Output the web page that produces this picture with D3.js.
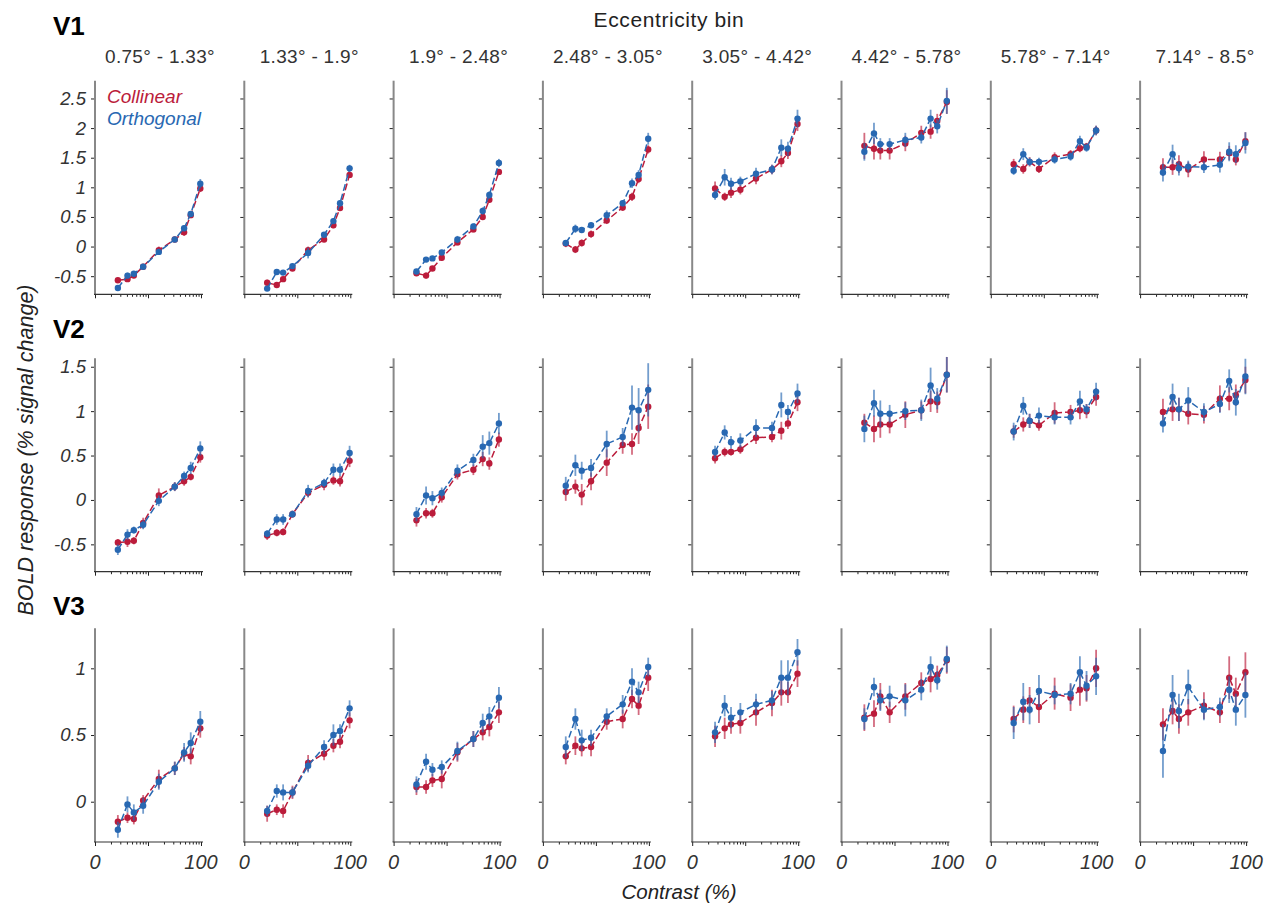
<!DOCTYPE html>
<html>
<head>
<meta charset="utf-8">
<script src="https://cdn.jsdelivr.net/npm/d3@7"></script>
<style>
  body { margin: 0; background: #fff; }
  svg text { font-family: "Liberation Sans", Arial, sans-serif; }
  .tickLabel { font-style: italic; fill: #333; font-size: 18.5px; }
</style>
</head>
<body>
<div id="graphicContainer"></div>
<script>
// contrast levels (%)
var contrast = [2.7, 4.1, 5.4, 8.1, 16, 32, 48, 64, 97]
var bins = ["0.75° - 1.33°", "1.33° - 1.9°", "1.9° - 2.48°", "2.48° - 3.05°", "3.05° - 4.42°", "4.42° - 5.78°", "5.78° - 7.14°", "7.14° - 8.5°"]
var areas = ["V1", "V2", "V3"]

// V1
var v1Collinear = [
  [-0.57, -0.55, -0.49, -0.34, -0.06, 0.12, 0.24, 0.53, 0.98],
  [-0.61, -0.65, -0.55, -0.37, -0.06, 0.12, 0.36, 0.65, 1.21],
  [-0.45, -0.49, -0.37, -0.19, 0.07, 0.29, 0.50, 0.79, 1.26],
  [0.05, -0.05, 0.06, 0.21, 0.44, 0.66, 0.84, 1.14, 1.64],
  [0.98, 0.84, 0.91, 0.96, 1.15, 1.30, 1.44, 1.58, 2.07],
  [1.70, 1.65, 1.62, 1.62, 1.74, 1.92, 1.94, 2.12, 2.44],
  [1.39, 1.31, 1.43, 1.31, 1.51, 1.56, 1.66, 1.69, 1.96],
  [1.34, 1.34, 1.39, 1.30, 1.47, 1.47, 1.58, 1.47, 1.78]
]
var v1CollinearErr = [
  [0.03, 0.03, 0.04, 0.03, 0.06, 0.04, 0.06, 0.05, 0.06],
  [0.05, 0.05, 0.04, 0.04, 0.06, 0.04, 0.05, 0.05, 0.05],
  [0.04, 0.05, 0.04, 0.05, 0.05, 0.05, 0.05, 0.05, 0.04],
  [0.06, 0.06, 0.06, 0.06, 0.06, 0.06, 0.07, 0.07, 0.07],
  [0.12, 0.07, 0.09, 0.08, 0.10, 0.08, 0.10, 0.10, 0.12],
  [0.22, 0.18, 0.15, 0.15, 0.13, 0.12, 0.12, 0.12, 0.20],
  [0.09, 0.08, 0.08, 0.07, 0.08, 0.07, 0.07, 0.06, 0.08],
  [0.15, 0.13, 0.15, 0.13, 0.14, 0.13, 0.12, 0.10, 0.15]
]
var v1Orthogonal = [
  [-0.70, -0.49, -0.46, -0.34, -0.09, 0.12, 0.31, 0.55, 1.06],
  [-0.71, -0.43, -0.44, -0.33, -0.11, 0.20, 0.43, 0.73, 1.32],
  [-0.42, -0.22, -0.20, -0.10, 0.12, 0.34, 0.60, 0.87, 1.41],
  [0.06, 0.30, 0.28, 0.36, 0.53, 0.73, 1.07, 1.21, 1.82],
  [0.87, 1.17, 1.06, 1.10, 1.23, 1.30, 1.67, 1.65, 2.16],
  [1.60, 1.91, 1.73, 1.73, 1.80, 1.84, 2.16, 2.03, 2.46],
  [1.28, 1.56, 1.43, 1.43, 1.47, 1.52, 1.78, 1.67, 1.96],
  [1.25, 1.56, 1.32, 1.35, 1.34, 1.38, 1.60, 1.56, 1.75]
]
var v1OrthogonalErr = [
  [0.03, 0.05, 0.04, 0.04, 0.05, 0.04, 0.05, 0.05, 0.08],
  [0.03, 0.04, 0.04, 0.04, 0.09, 0.04, 0.05, 0.05, 0.06],
  [0.03, 0.03, 0.03, 0.04, 0.06, 0.05, 0.06, 0.06, 0.07],
  [0.05, 0.07, 0.04, 0.04, 0.08, 0.05, 0.08, 0.08, 0.10],
  [0.08, 0.14, 0.10, 0.08, 0.10, 0.08, 0.14, 0.12, 0.15],
  [0.15, 0.18, 0.10, 0.10, 0.12, 0.10, 0.15, 0.12, 0.22],
  [0.07, 0.10, 0.07, 0.07, 0.07, 0.07, 0.09, 0.07, 0.08],
  [0.15, 0.16, 0.12, 0.10, 0.10, 0.13, 0.16, 0.15, 0.18]
]

// V2
var v2Collinear = [
  [-0.48, -0.47, -0.46, -0.26, 0.05, 0.15, 0.21, 0.26, 0.48],
  [-0.40, -0.37, -0.36, -0.16, 0.08, 0.17, 0.22, 0.21, 0.44],
  [-0.23, -0.15, -0.15, 0.03, 0.29, 0.34, 0.46, 0.41, 0.68],
  [0.09, 0.15, 0.06, 0.21, 0.42, 0.62, 0.63, 0.81, 1.05],
  [0.47, 0.54, 0.54, 0.57, 0.70, 0.71, 0.78, 0.86, 1.10],
  [0.87, 0.80, 0.85, 0.85, 0.96, 1.01, 1.11, 1.10, 1.41],
  [0.77, 0.85, 0.89, 0.84, 0.98, 0.99, 1.01, 1.00, 1.16],
  [0.99, 1.02, 1.02, 0.97, 0.96, 1.14, 1.14, 1.18, 1.35]
]
var v2CollinearErr = [
  [0.04, 0.06, 0.04, 0.06, 0.08, 0.05, 0.05, 0.04, 0.06],
  [0.05, 0.04, 0.04, 0.04, 0.05, 0.06, 0.05, 0.06, 0.07],
  [0.07, 0.06, 0.05, 0.06, 0.06, 0.06, 0.08, 0.07, 0.08],
  [0.10, 0.08, 0.12, 0.10, 0.15, 0.10, 0.12, 0.18, 0.25],
  [0.06, 0.05, 0.04, 0.05, 0.07, 0.06, 0.10, 0.06, 0.10],
  [0.10, 0.15, 0.15, 0.10, 0.15, 0.10, 0.12, 0.12, 0.20],
  [0.07, 0.08, 0.08, 0.06, 0.12, 0.08, 0.10, 0.08, 0.10],
  [0.15, 0.13, 0.13, 0.12, 0.10, 0.15, 0.13, 0.12, 0.15]
]
var v2Orthogonal = [
  [-0.56, -0.39, -0.34, -0.28, -0.01, 0.15, 0.27, 0.36, 0.58],
  [-0.38, -0.22, -0.22, -0.16, 0.10, 0.19, 0.34, 0.34, 0.53],
  [-0.16, 0.05, 0.02, 0.08, 0.33, 0.45, 0.60, 0.64, 0.86],
  [0.16, 0.39, 0.33, 0.36, 0.63, 0.71, 1.04, 1.01, 1.24],
  [0.54, 0.76, 0.65, 0.67, 0.81, 0.81, 1.07, 0.99, 1.20],
  [0.80, 1.09, 0.97, 0.97, 1.00, 1.01, 1.29, 1.14, 1.41],
  [0.77, 1.06, 0.89, 0.95, 0.93, 0.93, 1.11, 1.02, 1.22],
  [0.86, 1.16, 1.02, 1.12, 0.99, 1.08, 1.34, 1.10, 1.39]
]
var v2OrthogonalErr = [
  [0.06, 0.06, 0.04, 0.05, 0.06, 0.05, 0.05, 0.07, 0.08],
  [0.04, 0.06, 0.06, 0.04, 0.07, 0.05, 0.07, 0.07, 0.08],
  [0.08, 0.10, 0.08, 0.06, 0.07, 0.07, 0.13, 0.13, 0.12],
  [0.10, 0.12, 0.10, 0.10, 0.15, 0.10, 0.25, 0.25, 0.30],
  [0.07, 0.08, 0.07, 0.08, 0.10, 0.07, 0.14, 0.08, 0.11],
  [0.15, 0.15, 0.15, 0.10, 0.10, 0.12, 0.20, 0.12, 0.20],
  [0.10, 0.10, 0.08, 0.09, 0.08, 0.08, 0.12, 0.06, 0.10],
  [0.10, 0.15, 0.13, 0.15, 0.10, 0.10, 0.13, 0.15, 0.20]
]

// V3
var v3Collinear = [
  [-0.15, -0.12, -0.13, 0.01, 0.17, 0.25, 0.36, 0.34, 0.55],
  [-0.09, -0.06, -0.07, 0.07, 0.29, 0.36, 0.42, 0.45, 0.61],
  [0.11, 0.11, 0.16, 0.17, 0.37, 0.47, 0.52, 0.56, 0.67],
  [0.34, 0.42, 0.40, 0.41, 0.60, 0.62, 0.77, 0.72, 0.93],
  [0.49, 0.55, 0.58, 0.59, 0.67, 0.74, 0.82, 0.82, 0.96],
  [0.63, 0.66, 0.79, 0.67, 0.79, 0.89, 0.92, 0.95, 1.06],
  [0.62, 0.69, 0.76, 0.71, 0.81, 0.78, 0.84, 0.85, 1.00],
  [0.58, 0.68, 0.62, 0.67, 0.72, 0.67, 0.93, 0.81, 0.97]
]
var v3CollinearErr = [
  [0.05, 0.04, 0.04, 0.04, 0.07, 0.05, 0.05, 0.06, 0.07],
  [0.06, 0.04, 0.05, 0.05, 0.06, 0.05, 0.05, 0.05, 0.06],
  [0.06, 0.05, 0.05, 0.07, 0.07, 0.06, 0.06, 0.07, 0.08],
  [0.06, 0.07, 0.06, 0.07, 0.06, 0.07, 0.07, 0.07, 0.10],
  [0.08, 0.08, 0.07, 0.08, 0.10, 0.10, 0.10, 0.08, 0.10],
  [0.10, 0.10, 0.10, 0.08, 0.10, 0.08, 0.10, 0.07, 0.10],
  [0.10, 0.10, 0.10, 0.12, 0.12, 0.10, 0.12, 0.10, 0.14],
  [0.12, 0.10, 0.11, 0.10, 0.10, 0.08, 0.16, 0.12, 0.15]
]
var v3Orthogonal = [
  [-0.21, -0.02, -0.08, -0.03, 0.15, 0.25, 0.37, 0.44, 0.60],
  [-0.07, 0.08, 0.07, 0.07, 0.27, 0.41, 0.50, 0.53, 0.70],
  [0.13, 0.30, 0.24, 0.26, 0.38, 0.47, 0.59, 0.64, 0.78],
  [0.41, 0.62, 0.46, 0.48, 0.64, 0.73, 0.90, 0.82, 1.01],
  [0.52, 0.72, 0.63, 0.67, 0.73, 0.76, 0.93, 0.93, 1.12],
  [0.62, 0.86, 0.76, 0.79, 0.76, 0.84, 1.01, 0.91, 1.07],
  [0.59, 0.75, 0.69, 0.83, 0.80, 0.81, 0.97, 0.87, 0.94],
  [0.38, 0.80, 0.68, 0.86, 0.69, 0.71, 0.84, 0.69, 0.80]
]
var v3OrthogonalErr = [
  [0.06, 0.06, 0.06, 0.06, 0.06, 0.05, 0.07, 0.08, 0.08],
  [0.04, 0.05, 0.06, 0.04, 0.05, 0.05, 0.08, 0.05, 0.06],
  [0.06, 0.06, 0.05, 0.05, 0.07, 0.06, 0.07, 0.07, 0.08],
  [0.08, 0.08, 0.08, 0.06, 0.06, 0.07, 0.10, 0.08, 0.07],
  [0.08, 0.08, 0.08, 0.07, 0.08, 0.07, 0.13, 0.13, 0.10],
  [0.08, 0.07, 0.08, 0.08, 0.12, 0.08, 0.08, 0.07, 0.10],
  [0.12, 0.14, 0.11, 0.12, 0.07, 0.08, 0.12, 0.11, 0.14],
  [0.20, 0.15, 0.13, 0.13, 0.08, 0.07, 0.10, 0.12, 0.17]
]

var yTicksV1 = [-0.5, 0, 0.5, 1, 1.5, 2, 2.5]
var yTicksV2 = [-0.5, 0, 0.5, 1, 1.5]
var yTicksV3 = [0, 0.5, 1]

var red = "#bb1c3b"
var blue = "#2868b2"

var width = 1269, height = 905
var svg = d3.select("#graphicContainer").append("svg")
  .attr("width", width)
  .attr("height", height)

var rows = [
  { name: areas[0], top: 80.7, bottom: 294.3, domain: [-0.806, 2.80], ticks: yTicksV1, col: v1Collinear, colErr: v1CollinearErr, ort: v1Orthogonal, ortErr: v1OrthogonalErr, labelY: 35 },
  { name: areas[1], top: 358.3, bottom: 571.7, domain: [-0.808, 1.595], ticks: yTicksV2, col: v2Collinear, colErr: v2CollinearErr, ort: v2Orthogonal, ortErr: v2OrthogonalErr, labelY: 338 },
  { name: areas[2], top: 628.3, bottom: 842, domain: [-0.302, 1.30], ticks: yTicksV3, col: v3Collinear, colErr: v3CollinearErr, ort: v3Orthogonal, ortErr: v3OrthogonalErr, labelY: 615 }
]

var panelLeft = 95
var panelStep = 149.3
var panelW = 106

var x = d3.scaleLog().domain([1, 100]).range([0, panelW])
var xTicks = []
for (var p = 1; p <= 100; p *= 10) {
  for (var m = 1; m < 10; m++) {
    if (p * m <= 100) xTicks.push(p * m)
  }
}

// headers
svg.append("text")
  .attr("x", 669).attr("y", 27)
  .attr("text-anchor", "middle")
  .style("font-size", "21px").style("letter-spacing", "0.6px").style("fill", "#222")
  .text("Eccentricity bin")

bins.forEach(function (b, i) {
  svg.append("text")
    .attr("x", panelLeft + i * panelStep + panelW / 2 + 12)
    .attr("y", 63)
    .attr("text-anchor", "middle")
    .style("font-size", "19px").style("letter-spacing", "0.3px").style("fill", "#333")
    .text(b)
})

var line = d3.line()

rows.forEach(function (row, r) {
  var y = d3.scaleLinear().domain(row.domain).range([row.bottom, row.top])

  svg.append("text")
    .attr("x", 53).attr("y", row.labelY)
    .style("font-size", "26px").style("font-weight", "bold").style("fill", "#000")
    .text(row.name)

  bins.forEach(function (b, c) {
    var g = svg.append("g").attr("transform", "translate(" + (panelLeft + c * panelStep) + ",0)")

    // y axis
    var yAxis = d3.axisLeft(y).tickValues(row.ticks).tickSize(4)
    var ya = g.append("g").attr("class", "y").call(yAxis)
    ya.select(".domain").remove()
    ya.selectAll(".tick line").attr("stroke", "#222").attr("stroke-width", 1)
    if (c == 0) {
      ya.selectAll(".tick text").attr("class", "tickLabel").attr("x", -9)
        .text(function (d) { return d < 0 ? "-" + Math.abs(d) : d })
    } else {
      ya.selectAll(".tick text").remove()
    }
    g.append("line")
      .attr("x1", 0).attr("x2", 0)
      .attr("y1", row.top).attr("y2", row.bottom)
      .attr("stroke", "#888").attr("stroke-width", 2)

    // x axis
    var xAxis = d3.axisBottom(x).tickValues(xTicks).tickSize(3).tickFormat("")
    var xa = g.append("g").attr("class", "x").attr("transform", "translate(0," + row.bottom + ")").call(xAxis)
    xa.select(".domain").remove()
    xa.selectAll(".tick line").attr("stroke", "#222").attr("stroke-width", 1)
      .attr("y2", function (d) { return (d == 1 || d == 10 || d == 100) ? 4 : 2.5 })
    g.append("line")
      .attr("x1", -1).attr("x2", panelW + 2)
      .attr("y1", row.bottom).attr("y2", row.bottom)
      .attr("stroke", "#333").attr("stroke-width", 1.2)

    if (r == 2) {
      g.append("text").attr("class", "tickLabel")
        .attr("x", x(1)).attr("y", row.bottom + 27)
        .attr("text-anchor", "middle").style("font-size", "20px")
        .text("0")
      g.append("text").attr("class", "tickLabel")
        .attr("x", x(100)).attr("y", row.bottom + 27)
        .attr("text-anchor", "middle").style("font-size", "20px")
        .text("100")
    }

    var series = [
      { vals: row.col[c], errs: row.colErr[c], color: red },
      { vals: row.ort[c], errs: row.ortErr[c], color: blue }
    ]

    series.forEach(function (s) {
      var pts = contrast.map(function (ct, i) {
        return { c: ct, v: s.vals[i], e: s.errs[i] }
      })

      g.selectAll(null)
        .data(pts)
        .enter().append("line")
        .attr("x1", d => x(d.c)).attr("x2", d => x(d.c))
        .attr("y1", d => y(d.v - d.e)).attr("y2", d => y(d.v + d.e))
        .attr("stroke", s.color).attr("stroke-width", 1.8).attr("stroke-opacity", 0.65)

      g.append("path")
        .attr("d", line(pts.map(d => [x(d.c), y(d.v)])))
        .attr("fill", "none")
        .attr("stroke", s.color).attr("stroke-width", 1.5)
        .attr("stroke-dasharray", "7,3")

      g.selectAll(null)
        .data(pts)
        .enter().append("circle")
        .attr("cx", d => x(d.c)).attr("cy", d => y(d.v))
        .attr("r", 3.2)
        .attr("fill", s.color)
    })
  })
})

// legend
svg.append("text")
  .attr("x", 107).attr("y", 103)
  .style("font-size", "19px").style("font-style", "italic").style("fill", red)
  .text("Collinear")
svg.append("text")
  .attr("x", 107).attr("y", 125)
  .style("font-size", "19px").style("font-style", "italic").style("fill", blue)
  .text("Orthogonal")

// axis titles
svg.append("text")
  .attr("transform", "translate(33,450) rotate(-90)")
  .attr("text-anchor", "middle")
  .style("font-size", "21.5px").style("font-style", "italic").style("fill", "#222")
  .text("BOLD response (% signal change)")

svg.append("text")
  .attr("x", 679).attr("y", 899)
  .attr("text-anchor", "middle")
  .style("font-size", "20.5px").style("font-style", "italic").style("fill", "#222")
  .text("Contrast (%)")
</script>
</body>
</html>
